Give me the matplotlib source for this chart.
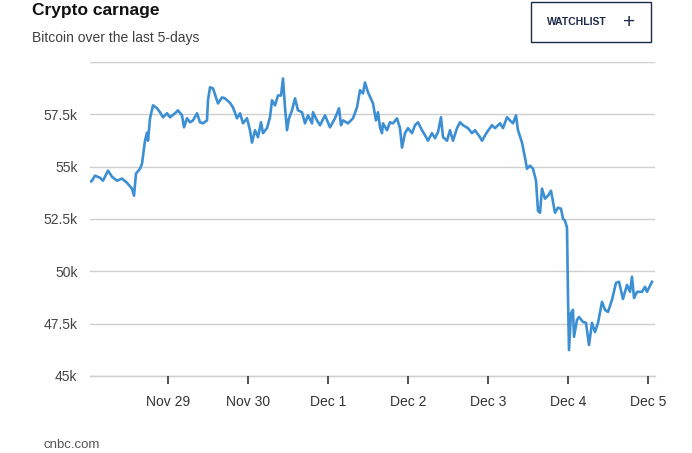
import matplotlib.pyplot as plt
from matplotlib.patches import Rectangle

plt.rcParams['font.family'] = ['Liberation Sans', 'DejaVu Sans']

# hours since Nov 28 00:00 and bitcoin price (USD)
hours = [0.9, 1.2, 2.1, 3.6, 4.5, 6.0, 7.2, 8.7, 10.2, 11.7, 13.2, 13.8, 14.4,
         15.6, 16.2, 17.1, 17.7, 18.0, 18.6, 19.5, 20.7, 21.6, 22.5, 23.7,
         24.6, 26.1, 27.0, 28.2, 28.8, 29.7, 30.6, 31.5, 32.7, 33.6, 34.5,
         35.7, 36.0, 36.6, 37.5, 39.0, 40.2, 41.1, 42.6, 43.5, 44.7, 45.6,
         46.5, 47.7, 48.6, 49.2, 50.1, 51.0, 51.9, 52.5, 53.7, 54.6, 55.2,
         56.1, 57.0, 57.9, 58.5, 59.1, 59.7, 60.3, 61.2, 62.1, 63.0, 64.2,
         65.1, 66.0, 67.2, 67.5, 68.7, 69.6, 71.1, 72.6, 74.1, 75.3, 75.9,
         76.5, 78.0, 79.5, 80.7, 81.6, 82.5, 83.1, 84.0, 85.5, 86.4, 87.0,
         87.6, 88.2, 88.5, 89.7, 90.6, 91.5, 92.7, 93.6, 94.2, 95.1, 96.0,
         97.2, 98.1, 99.0, 100.2, 101.1, 102.0, 103.2, 104.1, 105.0, 105.9,
         106.5, 107.7, 108.6, 109.5, 110.7, 111.6, 112.5, 114.0, 115.2,
         116.1, 117.6, 118.2, 119.7, 121.2, 122.1, 123.6, 124.5, 125.7,
         126.6, 127.5, 128.4, 129.0, 130.2, 131.1, 131.7, 132.6, 133.5,
         134.4, 135.0, 135.6, 136.2, 137.1, 138.0, 138.9, 140.1, 141.0,
         141.9, 142.5, 143.1, 143.7, 144.0, 144.3, 144.9, 145.5, 145.8,
         146.7, 147.3, 148.5, 149.4, 150.3, 151.2, 152.1, 153.0, 154.2,
         155.1, 156.0, 157.2, 158.4, 159.3, 160.5, 161.7, 162.6, 163.2,
         163.8, 164.7, 166.2, 167.1, 167.7, 169.2]
price = [54300, 54330, 54570, 54470, 54330, 54810, 54520, 54330, 54430, 54230,
         53950, 53610, 54670, 54900, 55140, 56240, 56620, 56240, 57300, 57930,
         57790, 57600, 57360, 57550, 57360, 57550, 57690, 57450, 56880, 57310,
         57120, 57210, 57550, 57120, 57070, 57210, 58170, 58790, 58740, 58020,
         58310, 58260, 58050, 57830, 57310, 57550, 57070, 57310, 56740, 56150,
         56740, 56410, 57120, 56600, 56840, 57360, 58170, 57930, 58400, 58400,
         59210, 57830, 56740, 57310, 57690, 58260, 57690, 57600, 57070, 57450,
         57070, 57600, 57210, 56980, 57450, 56880, 57310, 57790, 56980, 57210,
         57070, 57310, 57830, 58650, 58500, 59020, 58550, 58020, 57210, 57600,
         56880, 56600, 57070, 56740, 57120, 57070, 57310, 56840, 55910, 56600,
         56840, 56600, 56980, 57120, 56740, 56500, 56240, 56600, 56360, 56650,
         57360, 56410, 56240, 56740, 56240, 56840, 57120, 56980, 56840, 56600,
         56740, 56410, 56240, 56650, 56980, 56840, 57070, 56840, 57360, 57210,
         57070, 57450, 56740, 56150, 55430, 54900, 55050, 54900, 54330, 52890,
         52800, 53950, 53470, 53610, 53850, 52800, 53040, 52990, 52510, 52420,
         52080, 48780, 46240, 48010, 48160, 46870, 47680, 47820, 47580, 47540,
         46480, 47540, 47100, 47540, 48540, 48160, 48060, 48640, 49450, 49500,
         48680, 49350, 49020, 49740, 48730, 49020, 49020, 49260, 49020, 49500]

day_pos = [24, 48, 72, 96, 120, 144, 168]
day_labels = ['Nov 29', 'Nov 30', 'Dec 1', 'Dec 2', 'Dec 3', 'Dec 4', 'Dec 5']
y_ticks = [45000, 47500, 50000, 52500, 55000, 57500, 60000]
y_labels = ['45k', '47.5k', '50k', '52.5k', '55k', '57.5k', '']

fig = plt.figure(figsize=(6.92, 4.53), dpi=100)
ax = fig.add_axes([90 / 692, 1 - 376 / 453, 565 / 692, 314 / 453])

ax.plot(hours, price, color='#3d8fd4', lw=1.9, solid_joinstyle='round')

ax.set_xlim(0.6, 170.1)
ax.set_ylim(45000, 60000)
ax.set_yticks(y_ticks)
ax.set_yticklabels(y_labels)
ax.set_xticks(day_pos)
ax.set_xticklabels(day_labels)
ax.grid(axis='y', color='#cfcfcf', lw=1)
ax.axhline(45000, color='#cfcfcf', lw=1, clip_on=False, zorder=0.5)
ax.set_axisbelow(True)
for s in ['top', 'right', 'left', 'bottom']:
    ax.spines[s].set_visible(False)
ax.tick_params(axis='y', length=0, pad=9, labelsize=10, labelcolor='#444444')
ax.tick_params(axis='x', length=6, width=1.2, color='#333333', pad=8,
               labelsize=10, labelcolor='#333333')

# header
fig.text(32 / 692, 1 - 10 / 453, 'Crypto carnage', fontsize=12.5,
         fontweight='bold', color='#111111', va='center')
fig.text(32 / 692, 1 - 38 / 453, 'Bitcoin over the last 5-days', fontsize=10,
         color='#404040', va='center')

# watchlist button
fig.patches.append(Rectangle((531 / 692, 1 - 42 / 453), 120 / 692, 40 / 453,
                             transform=fig.transFigure, fill=False,
                             edgecolor='#1d2b4a', lw=1))
fig.text(547 / 692, 1 - 22 / 453, 'WATCHLIST', fontsize=7.5, fontweight='bold',
         color='#1d2b4a', va='center')
fig.text(629 / 692, 1 - 22 / 453, '+', fontsize=15, color='#1d2b4a',
         va='center', ha='center')

fig.text(43 / 692, 1 - 445 / 453, 'cnbc.com', fontsize=9.5, color='#555555',
         va='center')

fig.savefig('out.png', dpi=100)
